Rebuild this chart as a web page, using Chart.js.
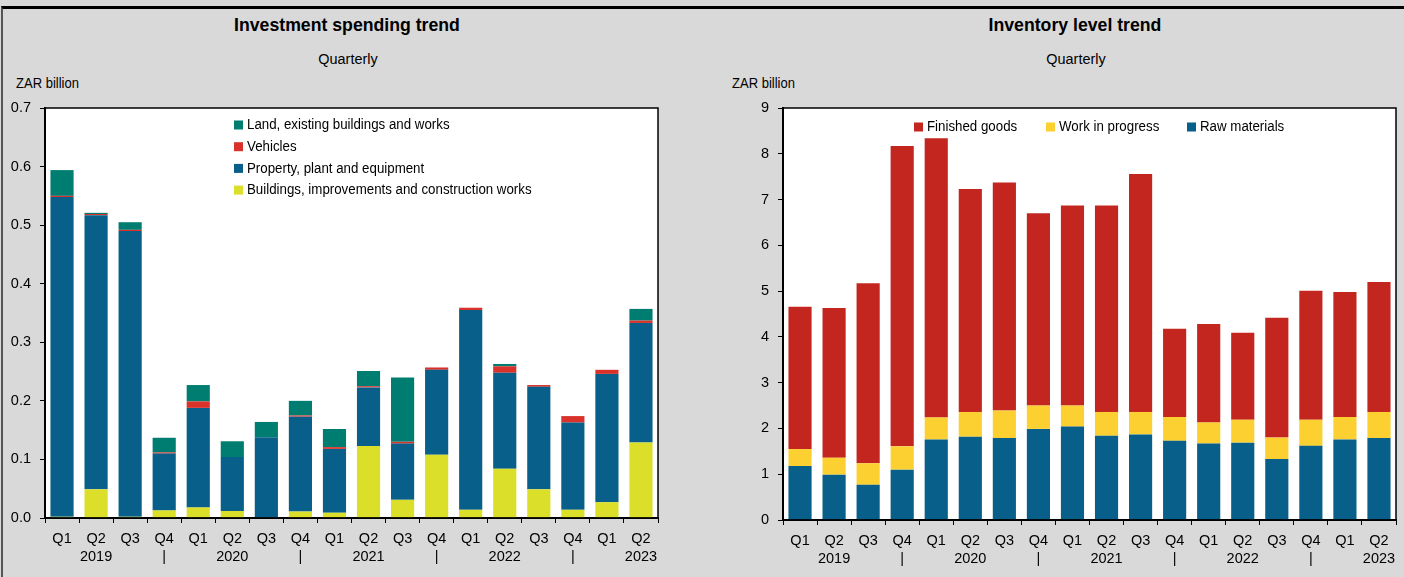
<!DOCTYPE html>
<html>
<head>
<meta charset="utf-8">
<title>Investment spending and inventory level trend</title>
<script src="https://cdn.jsdelivr.net/npm/chart.js@4.4.0/dist/chart.umd.min.js"></script>
<style>
  html, body { margin: 0; padding: 0; }
  body {
    width: 1404px; height: 577px; overflow: hidden; position: relative;
    background: #d9d9d9; color: #000;
    font-family: "Liberation Sans", Arial, sans-serif;
  }
  .frame {
    position: absolute; left: 1px; top: 6px; right: 0; bottom: 0;
    border-top: 3px solid #000; border-left: 2px solid #555;
  }
  .txt { position: absolute; white-space: nowrap; }
  .title { font-weight: bold; font-size: 19px; line-height: 20px; transform: translateX(-50%) scaleX(0.93); }
  .sub   { font-size: 15.5px; line-height: 18px; transform: translateX(-50%) scaleX(0.93); }
  .unit  { font-size: 14px; line-height: 16px; transform-origin: left center; transform: scaleX(0.93); }
  canvas { position: absolute; top: 0; }
</style>
</head>
<body>
<div class="frame"></div>

<div class="txt title" style="left:347px; top:15px">Investment spending trend</div>
<div class="txt sub"   style="left:348px; top:50px">Quarterly</div>
<div class="txt unit"  style="left:16px;  top:75px">ZAR billion</div>

<div class="txt title" style="left:1075px; top:15px">Inventory level trend</div>
<div class="txt sub"   style="left:1076px; top:50px">Quarterly</div>
<div class="txt unit"  style="left:732px;  top:75px">ZAR billion</div>

<canvas id="chart-invest"    width="700" height="577" style="left:0"></canvas>
<canvas id="chart-inventory" width="704" height="577" style="left:700px"></canvas>

<script>
"use strict";

// ─── Categories ────────────────────────────────────────────────────────────
const QUARTERS = ["Q1","Q2","Q3","Q4","Q1","Q2","Q3","Q4","Q1","Q2","Q3","Q4","Q1","Q2","Q3","Q4","Q1","Q2"];
const YEAR_ROW = ["","2019","","|","","2020","","|","","2021","","|","","2022","","|","","2023"];

// ─── Investment spending (ZAR billion) ─────────────────────────────────────
const buildings = [0.002,0.049,0.002,0.013,0.018,0.012,0.001,0.011,0.009,0.123,0.031,0.108,0.014,0.084,0.049,0.014,0.027,0.129];
const property  = [0.546,0.468,0.488,0.097,0.170,0.092,0.137,0.162,0.109,0.100,0.096,0.145,0.341,0.164,0.175,0.149,0.219,0.204];
const vehicles  = [0.002,0.002,0.002,0.002,0.011,0.000,0.000,0.002,0.003,0.002,0.003,0.004,0.004,0.011,0.003,0.011,0.007,0.004];
const land      = [0.044,0.002,0.013,0.025,0.028,0.027,0.026,0.025,0.031,0.026,0.110,0.000,0.000,0.004,0.000,0.000,0.000,0.020];

// ─── Inventory level (ZAR billion) ─────────────────────────────────────────
const rawMaterials   = [1.18,0.99,0.77,1.10,1.76,1.82,1.79,1.99,2.04,1.84,1.87,1.73,1.67,1.69,1.33,1.62,1.76,1.79];
const workInProgress = [0.37,0.37,0.47,0.51,0.48,0.54,0.60,0.51,0.46,0.52,0.49,0.52,0.46,0.50,0.47,0.57,0.49,0.57];
const finishedGoods  = [3.11,3.27,3.93,6.56,6.10,4.87,4.98,4.20,4.37,4.51,5.20,1.93,2.15,1.90,2.62,2.82,2.73,2.84];

const LABELS = QUARTERS.map((q, i) => [q, YEAR_ROW[i]]);
const FONT   = "'Liberation Sans', Arial, sans-serif";

Chart.defaults.font.family = FONT;
Chart.defaults.color       = "#000";

// ─── Plot frame: white fill + thin box round the chart area ────────────────
const framePlugin = {
  id: "frame",
  beforeDraw(chart) {
    const { ctx, chartArea: a } = chart;
    ctx.save();
    ctx.fillStyle = "#fff";
    ctx.fillRect(a.left, a.top, a.right - a.left, a.bottom - a.top);
    ctx.restore();
  },
  afterDraw(chart) {
    const { ctx, chartArea: a } = chart;
    ctx.save();
    ctx.strokeStyle = "#000";
    ctx.lineWidth = 1.5;
    ctx.strokeRect(a.left, a.top, a.right - a.left, a.bottom - a.top);
    ctx.restore();
  },
};

// ─── Legend drawn inside the plot, top-most series first ───────────────────
const insideLegend = {
  id: "insideLegend",
  afterDatasetsDraw(chart, args, opts) {
    const { ctx } = chart;
    const sets = chart.data.datasets.slice().reverse();
    ctx.save();
    ctx.font = "14px " + FONT;
    ctx.textBaseline = "middle";
    sets.forEach((ds, i) => {
      const x = opts.xs ? opts.xs[i] : opts.x;
      const y = opts.y + (opts.dy || 0) * i;
      ctx.fillStyle = ds.backgroundColor;
      ctx.fillRect(x, y - 4.5, 9, 9);
      // Excel-ish narrow text: squeeze horizontally a little
      ctx.save();
      ctx.translate(x + 13, y + 0.5);
      ctx.scale(0.95, 1);
      ctx.fillStyle = "#000";
      ctx.fillText(ds.label, 0, 0);
      ctx.restore();
    });
    ctx.restore();
  },
};

function makeChart(id, datasets, yMax, step, decimals, pad, yWidth, xHeight, legend) {
  const ctx = document.getElementById(id).getContext("2d");
  return new Chart(ctx, {
    type: "bar",
    data: { labels: LABELS, datasets },
    plugins: [framePlugin, insideLegend],
    options: {
      responsive: false,
      animation:  false,
      layout: { padding: pad },
      datasets: { bar: { barPercentage: 0.68, categoryPercentage: 1, borderWidth: 0 } },
      plugins: {
        legend:  { display: false },
        tooltip: { enabled: false },
        insideLegend: legend,
      },
      scales: {
        x: {
          stacked: true,
          grid:   { offset: true, drawOnChartArea: false, color: "#000", tickLength: 5 },
          border: { color: "#000", width: 2 },
          ticks:  { font: { size: 14.5, lineHeight: 1.25 }, padding: 7, maxRotation: 0, autoSkip: false },
          afterFit(s) { s.height = xHeight; },
        },
        y: {
          stacked: true,
          min: 0, max: yMax,
          grid:   { drawOnChartArea: false, color: "#000", tickLength: 5 },
          border: { color: "#000", width: 2 },
          ticks:  { stepSize: step, font: { size: 14.5 }, padding: 9,
                    callback: v => Number(v).toFixed(decimals) },
          afterFit(s) { s.width = yWidth; },
        },
      },
    },
  });
}

// ─── Investment spending trend ─────────────────────────────────────────────
makeChart("chart-invest", [
  { label: "Buildings, improvements and construction works", data: buildings, backgroundColor: "#dbdf2a" },
  { label: "Property, plant and equipment",                  data: property,  backgroundColor: "#075f8a" },
  { label: "Vehicles",                                       data: vehicles,  backgroundColor: "#d8322a" },
  { label: "Land, existing buildings and works",             data: land,      backgroundColor: "#007d71" },
], 0.7, 0.1, 1, { left: 0, top: 108, right: 42, bottom: 0 }, 45, 59,
   { x: 234, y: 125, dy: 21.7 });

// ─── Inventory level trend ─────────────────────────────────────────────────
makeChart("chart-inventory", [
  { label: "Raw materials",    data: rawMaterials,   backgroundColor: "#075f8a" },
  { label: "Work in progress", data: workInProgress, backgroundColor: "#fcd030" },
  { label: "Finished goods",   data: finishedGoods,  backgroundColor: "#c3261f" },
], 9, 1, 0, { left: 0, top: 108, right: 8, bottom: 0 }, 83, 57,
   { xs: [214, 346, 487], y: 127 });
</script>
</body>
</html>
